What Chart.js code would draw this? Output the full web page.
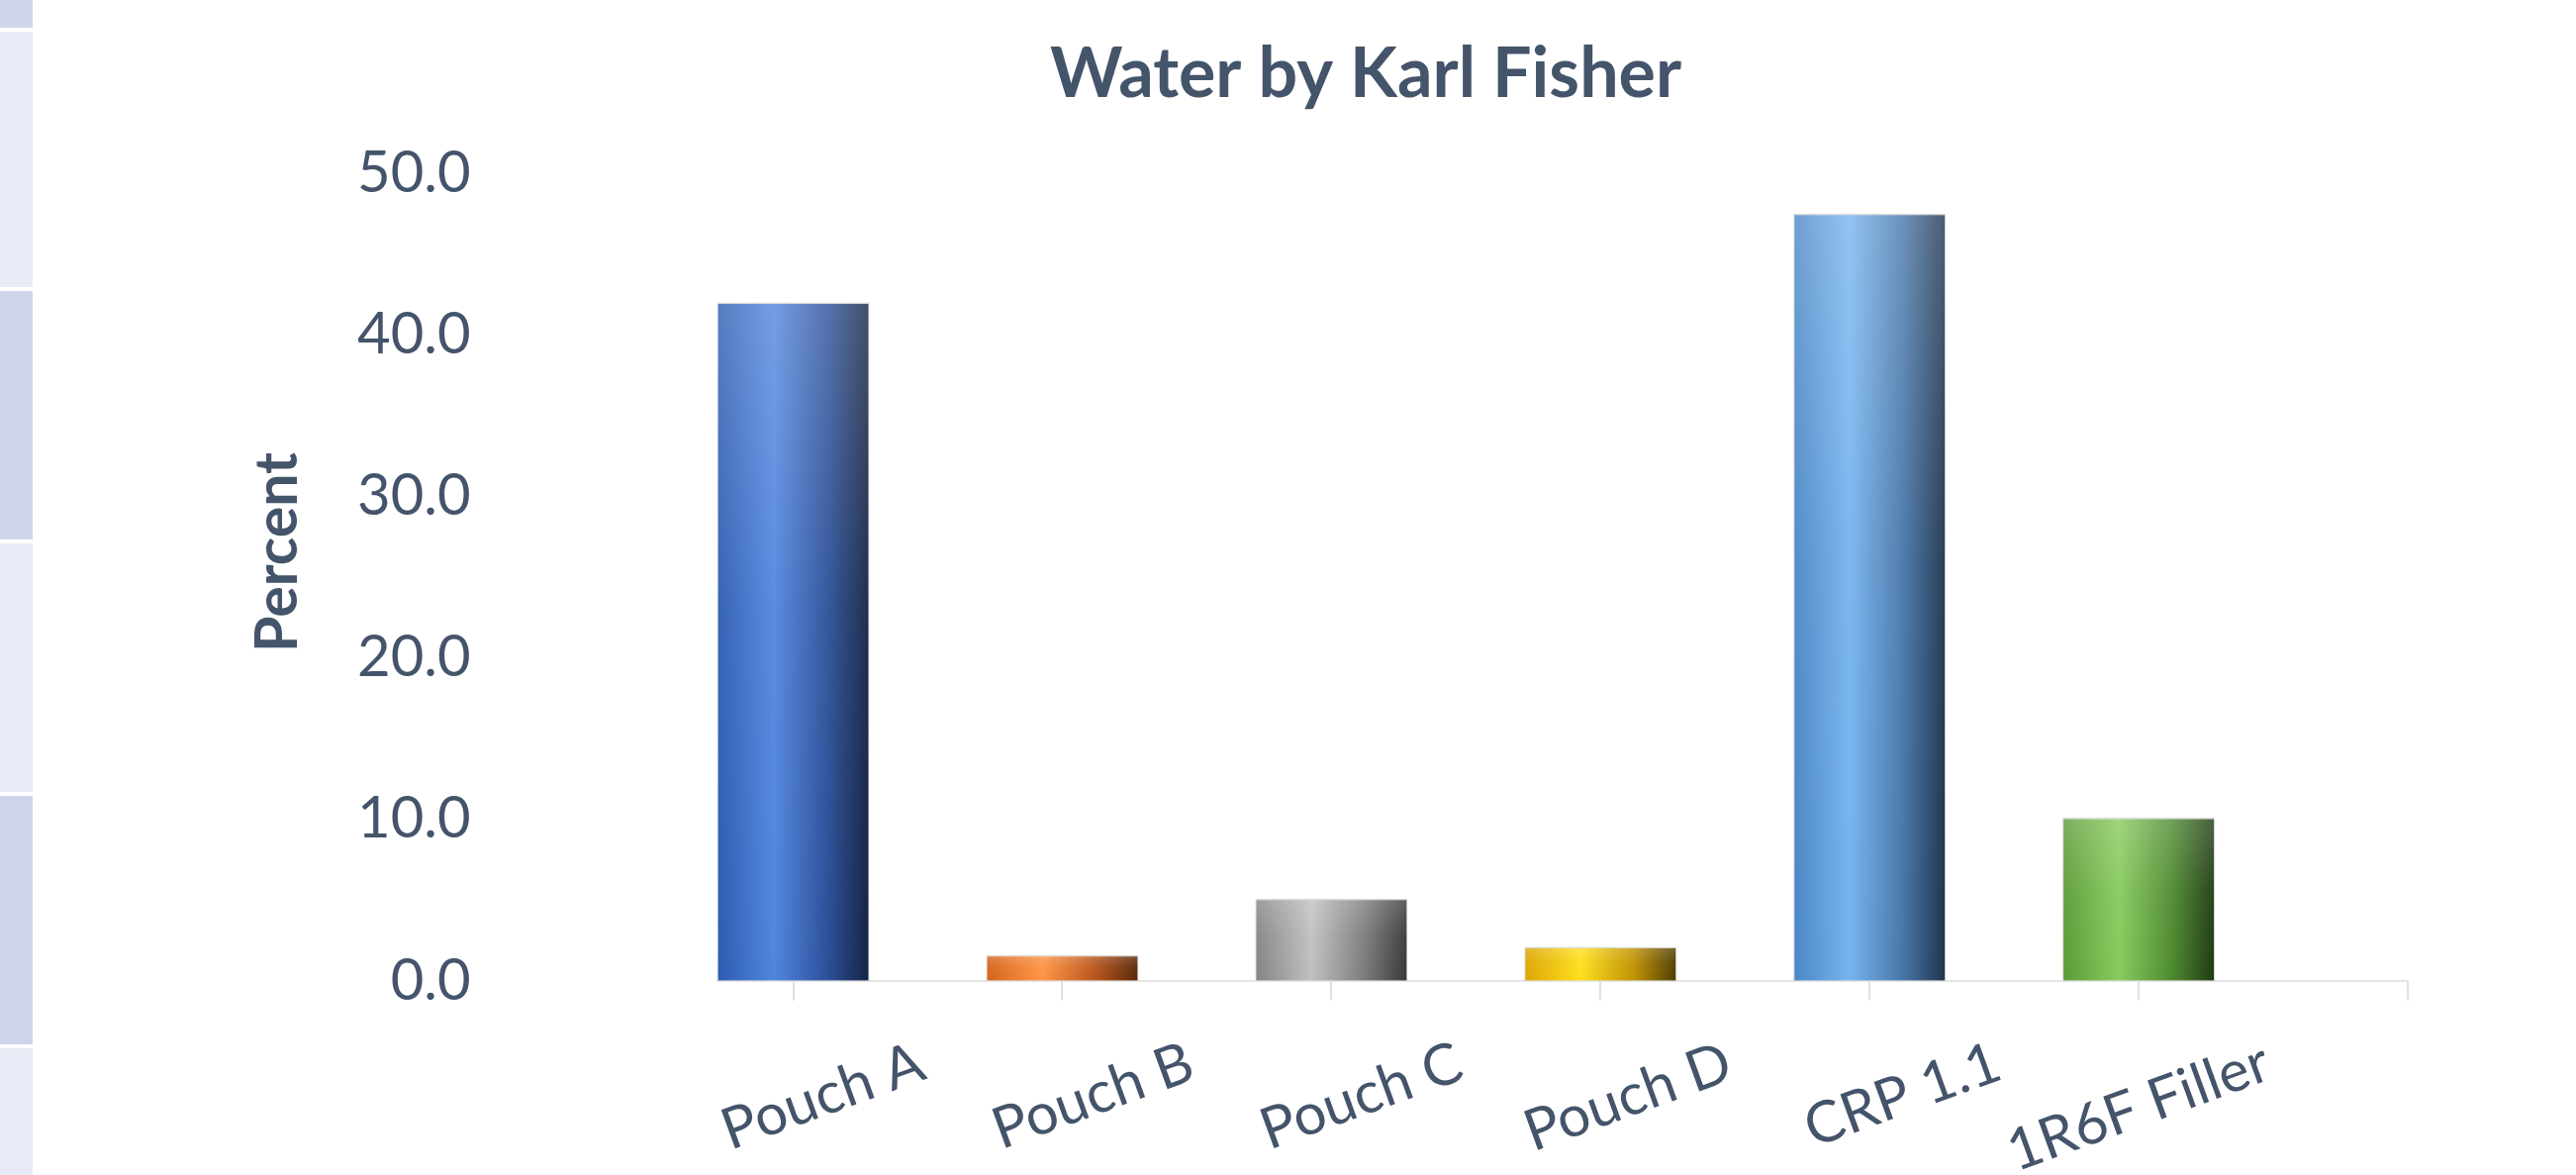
<!DOCTYPE html>
<html>
<head>
<meta charset="utf-8">
<title>Water by Karl Fisher</title>
<script src="https://cdn.jsdelivr.net/npm/chart.js@4.4.1/dist/chart.umd.min.js"></script>
<style>
  html, body { margin: 0; padding: 0; background: #ffffff; width: 2603px; height: 1187px; overflow: hidden; }
  #strip { position: absolute; left: 0; top: 0; width: 33px; height: 1187px; overflow: hidden; }
  .band { position: absolute; left: 0; width: 33px; }
  #wrap { position: absolute; left: 0; top: 0; width: 2603px; height: 1187px; }
</style>
</head>
<body>
<div id="strip"></div>
<div id="wrap"><canvas id="chart" width="2603" height="1187"></canvas></div>
<script>
// ---- data ----
const categories = ['Pouch A', 'Pouch B', 'Pouch C', 'Pouch D', 'CRP 1.1', '1R6F Filler'];
const waterPercent = [42.0, 1.6, 5.1, 2.1, 47.5, 10.1];
const yTickValues = [0, 10, 20, 30, 40, 50];
const slotIndex = [0, 1, 2, 3, 4, 5, 6];   // category slots on the x axis (last one is empty)

// ---- styling ----
const TEXT = '#44546a';
const BAR_SHARE = 0.566;                   // bar width as a share of one slot
// per-bar gradient stops: left edge, highlight, shoulder, right edge
const barPalettes = [
  ['#2c5bb0', '#5186df', '#2d519a', '#142343'],
  ['#d4621a', '#ff9443', '#b6531a', '#552606'],
  ['#838383', '#c0c0c0', '#7b7b7b', '#363636'],
  ['#dca300', '#ffdf1c', '#bf9000', '#4a3a00'],
  ['#4a86c4', '#76b4f0', '#4776a8', '#1e334e'],
  ['#5a9a35', '#88cb5e', '#4e8a30', '#1e3811']
];

// side strip of the slide
const strip = document.getElementById('strip');
[
  [-227, 28, '#cfd5ea'], [32, 290, '#e8ebf5'], [294, 545, '#cfd5ea'],
  [549, 800, '#e8ebf5'], [804, 1055, '#cfd5ea'], [1059, 1310, '#e8ebf5']
].forEach(([t, b, c]) => {
  const d = document.createElement('div');
  d.className = 'band';
  d.style.top = t + 'px';
  d.style.height = (b - t) + 'px';
  d.style.background = c;
  strip.appendChild(d);
});

// soft top-lit sheen over each bar
const sheen = {
  id: 'sheen',
  afterDatasetsDraw(chart) {
    const c = chart.ctx, a = chart.chartArea;
    c.save();
    c.beginPath(); c.rect(a.left, a.top, a.right - a.left, a.bottom - a.top); c.clip();
    chart.getDatasetMeta(0).data.forEach(bar => {
      const {x, y, base, width} = bar.getProps(['x', 'y', 'base', 'width'], true);
      const g = c.createLinearGradient(0, y, 0, base);
      g.addColorStop(0, 'rgba(255,255,255,0.20)');
      g.addColorStop(0.45, 'rgba(255,255,255,0.05)');
      g.addColorStop(1, 'rgba(255,255,255,0)');
      c.fillStyle = g;
      c.fillRect(x - width / 2, y, width, base - y);
    });
    c.restore();
  }
};

// chart heading and value-axis caption
const heading = {
  id: 'heading',
  afterDraw(chart) {
    const c = chart.ctx;
    c.save();
    c.fillStyle = TEXT;
    c.font = 'bold 70px Lato';
    c.textAlign = 'center';
    c.textBaseline = 'alphabetic';
    c.fillText('Water by Karl Fisher', 1380, 98);

    c.translate(281, 558);
    c.rotate(-Math.PI / 2);
    c.font = 'bold 59px Lato';
    c.textBaseline = 'middle';
    c.fillText('Percent', 0, 0);
    c.restore();
  }
};

new Chart(document.getElementById('chart'), {
  type: 'bar',
  data: {
    datasets: [{
      data: waterPercent.map((v, i) => ({x: i, y: v})),
      barPercentage: BAR_SHARE,
      categoryPercentage: 1,
      borderWidth: {top: 1.5, left: 1, right: 1, bottom: 0},
      borderColor: 'rgba(205,205,205,0.9)',
      borderSkipped: 'start',
      backgroundColor: ctx => {
        const chart = ctx.chart;
        const pal = barPalettes[ctx.dataIndex] || barPalettes[0];
        if (!chart.chartArea || ctx.type !== 'data') return pal[1];
        const xs = chart.scales.x;
        const x0 = xs.getPixelForValue(ctx.dataIndex - BAR_SHARE / 2);
        const x1 = xs.getPixelForValue(ctx.dataIndex + BAR_SHARE / 2);
        const g = chart.ctx.createLinearGradient(x0, 0, x1, 0);
        g.addColorStop(0, pal[0]);
        g.addColorStop(0.37, pal[1]);
        g.addColorStop(0.72, pal[2]);
        g.addColorStop(1, pal[3]);
        return g;
      }
    }]
  },
  options: {
    responsive: false,
    devicePixelRatio: 1,
    animation: false,
    events: [],
    layout: { padding: { left: 357, right: 170, top: 175, bottom: -40 } },
    plugins: { legend: { display: false }, tooltip: { enabled: false }, title: { display: false } },
    scales: {
      x: {
        type: 'linear',
        offset: false,
        min: -BAR_SHARE / 2,
        max: slotIndex[slotIndex.length - 1],
        afterBuildTicks: s => { s.ticks = slotIndex.map(v => ({value: v})); },
        ticks: {
          autoSkip: false,
          minRotation: 20,
          maxRotation: 20,
          labelOffset: 130,
          padding: 28,
          color: TEXT,
          font: { family: 'Lato', size: 58 },
          callback: v => categories[v] ?? ''
        },
        grid: { offset: false, drawOnChartArea: false, drawTicks: true, tickLength: 20, color: '#dde2ea', lineWidth: 2 },
        border: { display: true, color: '#e4e4e4', width: 2 }
      },
      y: {
        min: yTickValues[0],
        max: yTickValues[yTickValues.length - 1],
        afterBuildTicks: s => { s.ticks = yTickValues.map(v => ({value: v})); },
        ticks: {
          padding: 4,
          color: TEXT,
          font: { family: 'Lato', size: 58 },
          callback: v => Number(v).toFixed(1)
        },
        // no visible grid; the hidden tick marks only hold the gap beside the labels
        grid: { display: false, drawTicks: true, tickLength: 245 },
        border: { display: false }
      }
    }
  },
  plugins: [sheen, heading]
});
</script>
</body>
</html>
